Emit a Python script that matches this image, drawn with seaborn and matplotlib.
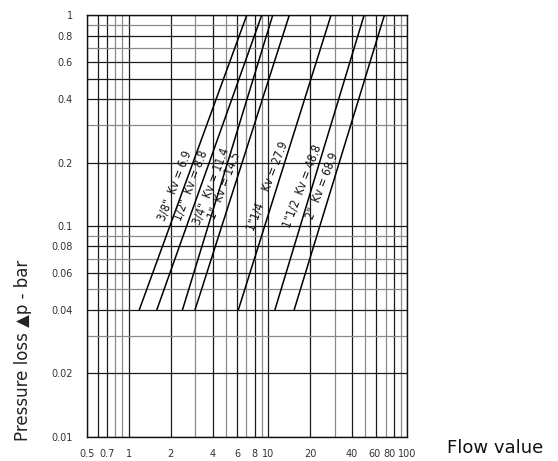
import numpy as np
import pandas as pd
import matplotlib
matplotlib.use("Agg")
import matplotlib.pyplot as plt
import matplotlib.transforms as mtransforms
import seaborn as sns

# ---- data ----
sizes = ['3/8"', '1/2"', '3/4"', '1"', '1"1/4', '1"1/2', '2"']
kv_values = [6.9, 8.8, 11.4, 14.5, 27.9, 48.8, 68.9]
flow_at_low = [1.19, 1.59, 2.43, 2.99, 6.12, 11.2, 15.4]    # flow at dp = 0.04 bar
flow_at_high = [7.03, 9.0, 10.8, 14.2, 28.3, 48.9, 68.4]    # flow at dp = 1 bar
dp_low = 0.04
dp_high = 1.0

x_grid = [0.5, 0.6, 0.7, 0.8, 0.9, 1, 2, 3, 4, 5, 6, 7, 8, 9,
          10, 20, 30, 40, 50, 60, 70, 80, 90, 100]
x_labels = {0.5: "0.5", 0.7: "0.7", 1: "1", 2: "2", 4: "4", 6: "6", 8: "8",
            10: "10", 20: "20", 40: "40", 60: "60", 80: "80", 100: "100"}
y_grid = [0.01, 0.02, 0.03, 0.04, 0.05, 0.06, 0.07, 0.08, 0.09,
          0.1, 0.2, 0.3, 0.4, 0.5, 0.6, 0.7, 0.8, 0.9, 1]
y_labels = {0.01: "0.01", 0.02: "0.02", 0.04: "0.04", 0.06: "0.06", 0.08: "0.08",
            0.1: "0.1", 0.2: "0.2", 0.4: "0.4", 0.6: "0.6", 0.8: "0.8", 1: "1"}

rows = []
for s, lo, hi in zip(sizes, flow_at_low, flow_at_high):
    rows.append({"size": s, "flow": lo, "dp": dp_low})
    rows.append({"size": s, "flow": hi, "dp": dp_high})
df = pd.DataFrame(rows)

sns.set_theme(style="white")
plt.rcParams['font.family'] = ['DejaVu Sans']

fig = plt.figure(figsize=(5.58, 4.61), dpi=100)
ax = fig.add_axes([0.1556, 0.0527, 0.5744, 0.9141])
ax.set_xscale("log")
ax.set_yscale("log")

# grid (scanned look: mostly dark lines, some lighter)
gray_x = {0.8, 0.9, 3, 5, 7, 9, 30, 50, 70, 90}
gray_y = {0.9, 0.7, 0.3, 0.09, 0.07, 0.05, 0.03}
for v in x_grid:
    ax.axvline(v, color="#8a8a8a" if v in gray_x else "#1a1a1a", lw=0.9, zorder=1)
for v in y_grid:
    ax.axhline(v, color="#8a8a8a" if v in gray_y else "#1a1a1a", lw=0.9, zorder=1)

sns.lineplot(data=df, x="flow", y="dp", hue="size", units="size", estimator=None,
             palette=["black"] * len(sizes), legend=False, lw=1.1, ax=ax, zorder=3)

ax.set_xlim(0.5, 100)
ax.set_ylim(0.01, 1)

ax.set_xticks(x_grid)
ax.set_xticklabels([x_labels.get(v, "") for v in x_grid])
ax.set_yticks(y_grid)
ax.set_yticklabels([y_labels.get(v, "") for v in y_grid])
ax.minorticks_off()
ax.tick_params(axis="both", which="major", direction="out", length=4, width=0.8,
               color="#222222", labelsize=7, labelcolor="#333333")
ax.tick_params(axis="x", pad=5)
ax.tick_params(axis="y", pad=6)
ax.set_xlabel("")
ax.set_ylabel("")
for sp in ax.spines.values():
    sp.set_visible(True)
    sp.set_color("#111111")
    sp.set_linewidth(1.0)

# crowded labels at the right end of the x axis sit a little to the left
nudge = {60: -2, 80: -4}
for v, lab in zip(x_grid, ax.get_xticklabels()):
    if v in nudge:
        lab.set_transform(lab.get_transform() +
                          mtransforms.ScaledTranslation(nudge[v] / 100, 0, fig.dpi_scale_trans))

# labels along each line
label_dp = 0.155
for s, kv, lo, hi in zip(sizes, kv_values, flow_at_low, flow_at_high):
    frac = np.log10(label_dp / dp_low) / np.log10(dp_high / dp_low)
    fx = 10 ** (np.log10(lo) + frac * (np.log10(hi) - np.log10(lo)))
    gap = "    " if s == '1"1/4' else "  "
    ax.annotate(f"{s}{gap}Kv = {kv}", xy=(fx, label_dp), xytext=(-10, 0),
                textcoords="offset pixels", rotation=69, rotation_mode="anchor",
                ha="center", va="center", fontsize=8.5, fontstretch="condensed",
                color="#111111", zorder=4)

fig.text(23 / 558, 1 - 350 / 461, "Pressure loss \u25B2p - bar", rotation=90,
         ha="center", va="center", fontsize=12, color="#222222")
fig.text(495 / 558, 1 - 448 / 461, "Flow value", ha="center", va="center",
         fontsize=13, color="#111111")

fig.savefig("out.png", dpi=100)
